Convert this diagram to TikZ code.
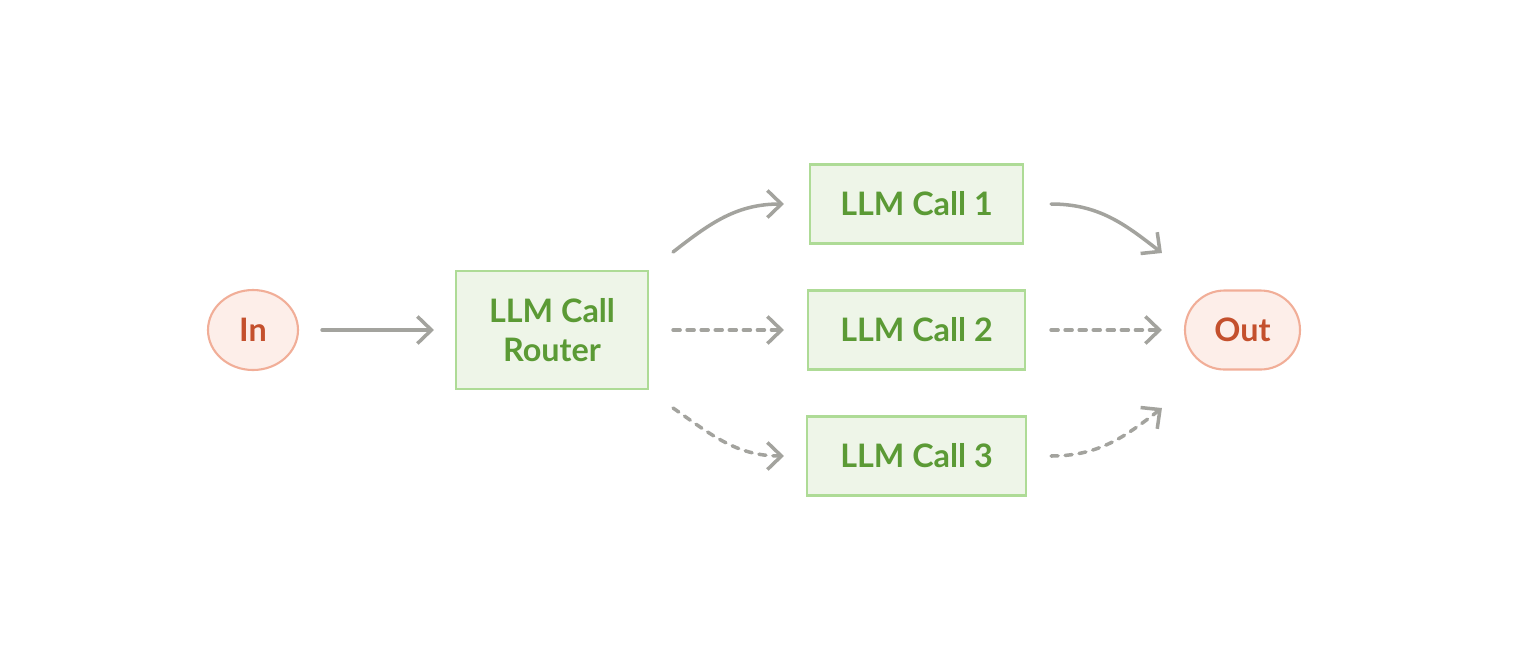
\documentclass[tikz,border=0pt]{standalone}
\usepackage{fontspec}
\setmainfont{Lato}
\usepackage{tikz}
\usetikzlibrary{arrows.meta, positioning, shapes.geometric, calc}
\definecolor{callgreen}{HTML}{5B9A35}
\definecolor{callborder}{HTML}{AEDB96}
\definecolor{callfill}{HTML}{EEF5E8}
\definecolor{termred}{HTML}{C4502D}
\definecolor{termborder}{HTML}{F1AE98}
\definecolor{termfill}{HTML}{FDEEE9}
\definecolor{arrowgray}{HTML}{A3A39E}

\begin{document}
\begin{tikzpicture}[
    box/.style={rectangle, draw=callborder, fill=callfill, line width=0.6pt, minimum height=0.79cm, font=\fontsize{9.2}{11.1}\selectfont\bfseries, text=callgreen, align=center, inner sep=0pt},
    term/.style={draw=termborder, fill=termfill, line width=0.6pt, minimum height=0.79cm, font=\fontsize{9.2}{11.1}\selectfont\bfseries, text=termred, inner sep=0pt},
    arr/.style={-{Straight Barb[length=1.4mm, width=2.7mm]}, line width=1pt, arrowgray, line cap=round},
    opt/.style={dash pattern=on 2pt off 2pt},
  ]
  \useasboundingbox (0,-3.36) rectangle (15.18,3.30);
  % Nodes
  \node[term, ellipse, minimum width=0.90cm, minimum height=0.80cm] (in) at (2.53,0) {In};
  \node[box, minimum width=1.92cm, minimum height=1.18cm] (router) at (5.52,0) {LLM Call\\Router};
  \node[box, minimum width=2.13cm] (call1) at (9.165,1.26) {LLM Call 1};
  \node[box, minimum width=2.17cm] (call2) at (9.165,0) {LLM Call 2};
  \node[box, minimum width=2.19cm] (call3) at (9.165,-1.26) {LLM Call 3};
  \node[term, rectangle, rounded corners=0.395cm, minimum width=1.15cm] (out) at (12.425,0) {Out};

  % Arrows
  \draw[arr] ([xshift=0.23cm]in.east) -- ([xshift=-0.21cm]router.west);
  \draw[arr] ([shift={(0.24,0.78)}]router.east) to[out=38, in=180] ([xshift=-0.25cm]call1.west);
  \draw[arr, opt] ([xshift=0.24cm]router.east) -- ([xshift=-0.23cm]call2.west);
  \draw[arr, opt] ([shift={(0.24,-0.78)}]router.east) to[out=-35, in=180] ([xshift=-0.22cm]call3.west);
  \draw[arr] ([xshift=0.27cm]call1.east) to[out=0, in=142] ([shift={(-0.22,0.77)}]out.west);
  \draw[arr, opt] ([xshift=0.25cm]call2.east) -- ([xshift=-0.22cm]out.west);
  \draw[arr, opt] ([xshift=0.24cm]call3.east) to[out=0, in=-142] ([shift={(-0.22,-0.78)}]out.west);
\end{tikzpicture}
\end{document}
